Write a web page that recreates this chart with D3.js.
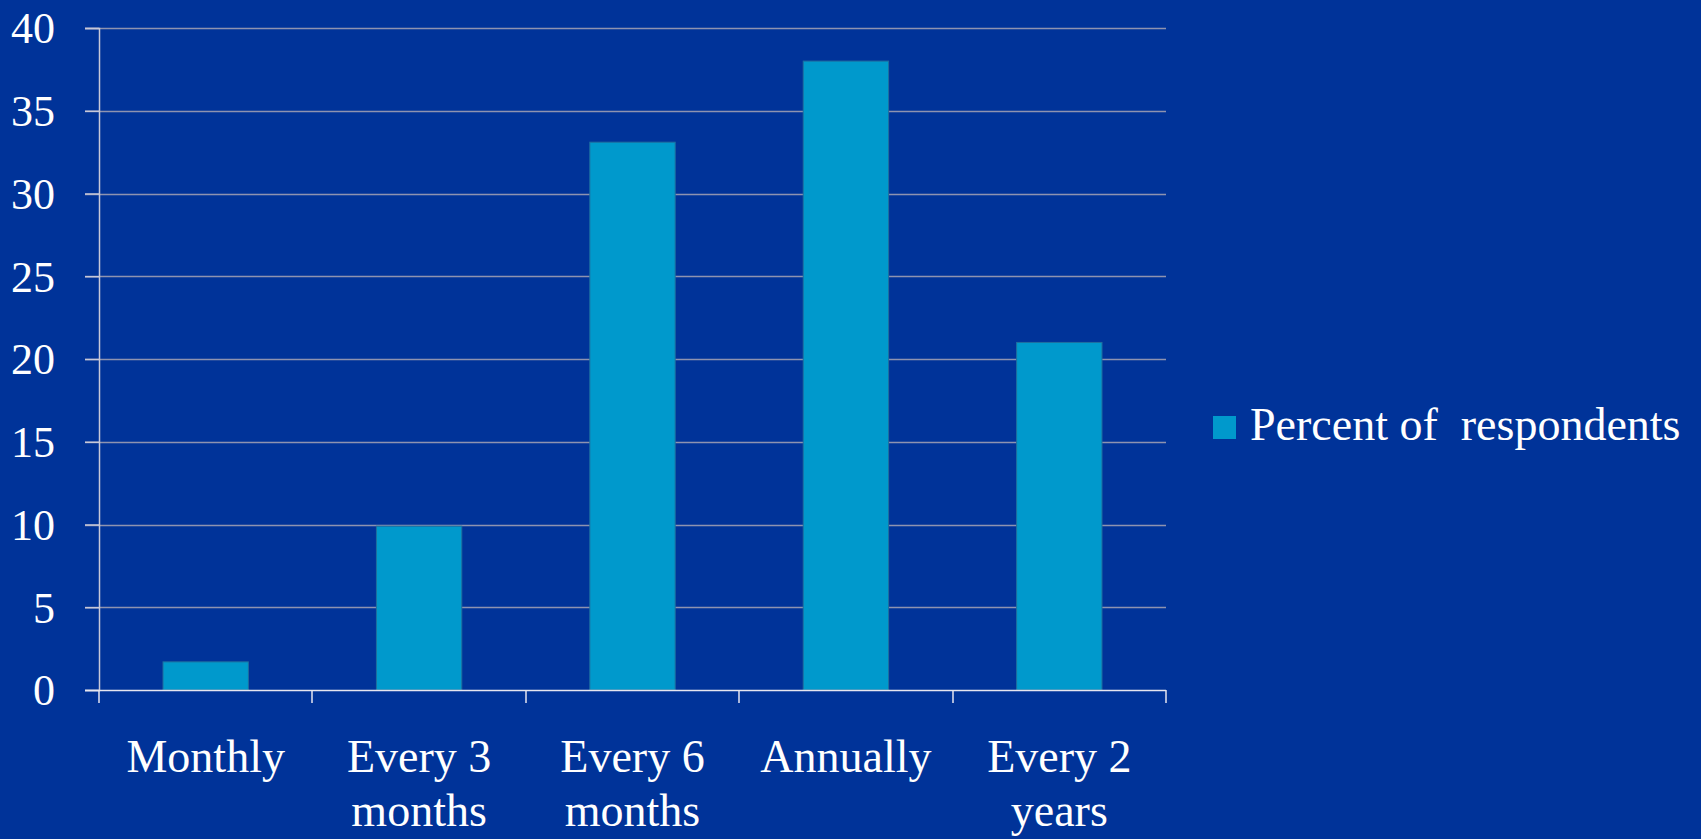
<!DOCTYPE html>
<html>
<head>
<meta charset="utf-8">
<script src="https://cdn.jsdelivr.net/npm/d3@7"></script>
<style>
  html, body { margin: 0; padding: 0; background: #003399; }
  svg { display: block; }
  svg text { font-family: "Liberation Serif", "Times New Roman", Times, "DejaVu Serif", serif; }
</style>
</head>
<body>
<svg id="chart" width="1701" height="839"></svg>
<script>
const categories = ["Monthly", "Every 3 months", "Every 6 months", "Annually", "Every 2 years"];
const categoryLines = [["Monthly"], ["Every 3", "months"], ["Every 6", "months"], ["Annually"], ["Every 2", "years"]];
const values = [1.7, 9.9, 33.1, 38.0, 21.0];
const yTicks = [0, 5, 10, 15, 20, 25, 30, 35, 40];
const seriesName = "Percent of  respondents";

(function () {
const svg = d3.select("#chart");
const W = 1701, H = 839;
svg.append("rect").attr("width", W).attr("height", H).attr("fill", "#003399");

const plotLeft = 99, plotRight = 1166, plotTop = 28, plotBottom = 690;
const font = '"Liberation Serif", "Times New Roman", Times, "DejaVu Serif", serif';

const x = d3.scaleBand().domain(categories).range([plotLeft, plotRight]).paddingInner(0.6).paddingOuter(0.3);
const y = d3.scaleLinear().domain([0, 40]).range([plotBottom, plotTop]);

// gridlines
svg.append("g").selectAll("line").data(yTicks.filter(d => d > 0)).join("line")
  .attr("x1", plotLeft - 14).attr("x2", plotRight)
  .attr("y1", d => Math.round(y(d)) + 0.5).attr("y2", d => Math.round(y(d)) + 0.5)
  .attr("stroke", "#8e93b0").attr("stroke-width", 1.5);

// bars
svg.append("g").selectAll("rect").data(values).join("rect")
  .attr("x", (d, i) => x(categories[i]))
  .attr("width", x.bandwidth())
  .attr("y", d => y(d))
  .attr("height", d => y(0) - y(d))
  .attr("fill", "#0099cc")
  .attr("stroke", "#1f6f9f").attr("stroke-width", 1);

// y axis
const yAxis = d3.axisLeft(y).tickValues(yTicks).tickSize(14).tickPadding(30);
const gy = svg.append("g").attr("transform", `translate(${plotLeft},0)`).call(yAxis);
gy.attr("font-family", null).style("font-family", font);
gy.select(".domain").attr("stroke", "#c8c8d8").attr("stroke-width", 1.5);
gy.selectAll(".tick line").attr("stroke", "#c8c8d8").attr("stroke-width", 1.5);
gy.selectAll(".tick text").attr("fill", "#ffffff").style("font-family", font).style("font-size", "44px")
  .attr("dy", "0.34em");

// x axis baseline and ticks
const boundaries = categories.map(c => x(c) - x.step() * x.paddingInner() / 2);
boundaries[0] = plotLeft;
boundaries.push(plotRight);
svg.append("line").attr("x1", plotLeft - 14).attr("x2", plotRight)
  .attr("y1", plotBottom + 0.5).attr("y2", plotBottom + 0.5)
  .attr("stroke", "#e6e6f0").attr("stroke-width", 1.5);
svg.append("g").selectAll("line").data(boundaries).join("line")
  .attr("x1", d => Math.round(d)).attr("x2", d => Math.round(d))
  .attr("y1", plotBottom).attr("y2", plotBottom + 13)
  .attr("stroke", "#e6e6f0").attr("stroke-width", 1.5);

// category labels
const lab = svg.append("g").selectAll("text").data(categoryLines).join("text")
  .attr("x", (d, i) => x(categories[i]) + x.bandwidth() / 2)
  .attr("y", 772)
  .attr("text-anchor", "middle")
  .attr("fill", "#ffffff").style("font-family", font).style("font-size", "46px");
lab.selectAll("tspan").data(d => d).join("tspan")
  .attr("x", function() { return d3.select(this.parentNode).attr("x"); })
  .attr("dy", (d, i) => i === 0 ? 0 : 54)
  .text(d => d);

// legend
const lg = svg.append("g");
lg.append("rect").attr("x", 1213).attr("y", 416).attr("width", 23).attr("height", 23).attr("fill", "#0099cc");
lg.append("text").attr("x", 1250).attr("y", 440).attr("fill", "#ffffff")
  .style("font-family", font).style("font-size", "46px")
  .style("white-space", "pre").text(seriesName);
})();
</script>
</body>
</html>
